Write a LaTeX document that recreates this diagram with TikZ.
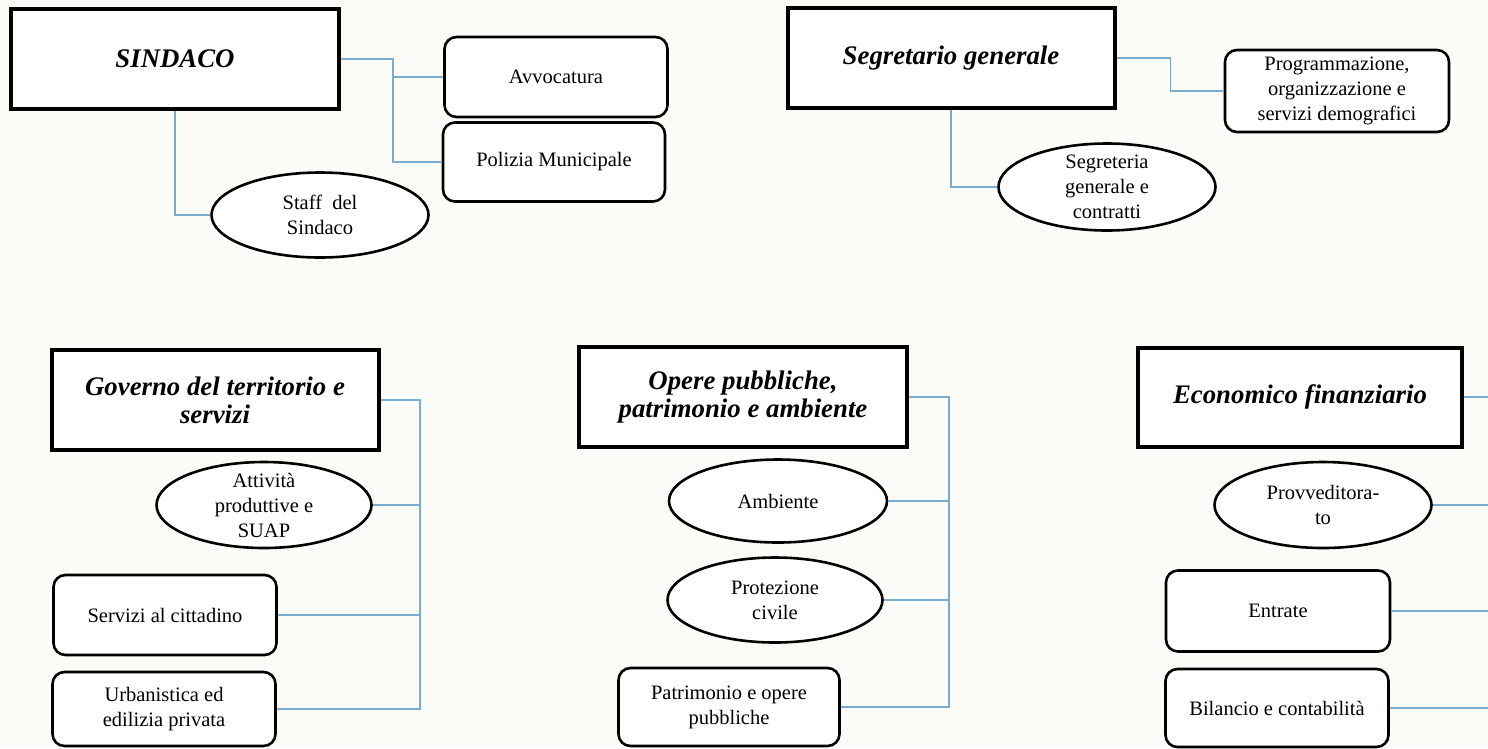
\documentclass[tikz,border=0pt]{standalone}
\usepackage{fontspec}
\setmainfont{Liberation Serif}
\usetikzlibrary{shapes.geometric}
\definecolor{carta}{RGB}{251,251,248}
\definecolor{linea}{RGB}{122,172,205}
\begin{document}
\begin{tikzpicture}[x=1pt,y=-1pt,
	capo/.style={draw,line width=4pt,fill=white,inner sep=0pt,align=center,
		font=\fontsize{26.8}{28}\selectfont\bfseries\itshape},
	ufficio/.style={draw,line width=2.6pt,rounded corners=12pt,fill=white,inner sep=0pt,
		align=center,font=\fontsize{20.5}{25}\selectfont},
	servizio/.style={draw,ellipse,line width=2.6pt,fill=white,inner xsep=0pt,inner ysep=-6pt,
		align=center,font=\fontsize{20.5}{25}\selectfont},
	link/.style={draw=linea,line width=1.4pt}]
	\fill[carta] (0,0) rectangle (1488,748);
	\useasboundingbox (0,0) rectangle (1488,748);
	\coordinate (bordo) at (1490,0);
	% Sindaco
	\node[capo,minimum width=328,minimum height=100] (sindaco) at (175,59) {SINDACO};
	\node[ufficio,minimum width=223,minimum height=80] (avvocatura) at (556,77) {Avvocatura};
	\node[ufficio,minimum width=222,minimum height=79] (polizia) at (554,162) {Polizia Municipale};
	\node[servizio,minimum width=217,minimum height=85] (staff) at (320,215) {Staff~~del\\Sindaco};
	\draw[link] (sindaco.east) -- ++(52,0) coordinate (s1) |- (polizia.west);
	\draw[link] (s1) |- (avvocatura.west);
	\draw[link] (sindaco.south) |- (staff.west);
	% Segretario generale
	\node[capo,minimum width=327,minimum height=100] (segretario) at (951,58) {Segretario generale};
	\node[ufficio,minimum width=224,minimum height=82] (programmazione) at (1337,91)
		{Programmazione,\\organizzazione e\\servizi demografici};
	\node[servizio,minimum width=217,minimum height=87] (segreteria) at (1107,187)
		{Segreteria\\generale e\\contratti};
	\draw[link] (segretario.east) -- ++(54,0) |- (programmazione.west);
	\draw[link] (segretario.south) |- (segreteria.west);
	% Governo del territorio e servizi
	\node[capo,minimum width=327,minimum height=100] (governo) at (215,400)
		{Governo del territorio e\\servizi};
	\node[servizio,minimum width=215,minimum height=86] (attivita) at (264,505)
		{Attività\\produttive e\\SUAP};
	\node[ufficio,minimum width=223,minimum height=80] (servizi) at (165,615) {Servizi al cittadino};
	\node[ufficio,minimum width=223,minimum height=74] (urbanistica) at (164,709)
		{Urbanistica ed\\edilizia privata};
	\draw[link] (governo.east) -- ++(39.5,0) coordinate (g1) |- (urbanistica.east);
	\draw[link] (g1 |- attivita.east) -- (attivita.east);
	\draw[link] (g1 |- servizi.east) -- (servizi.east);
	% Opere pubbliche, patrimonio e ambiente
	\node[capo,minimum width=328,minimum height=100] (opere) at (743,397)
		{Opere pubbliche,\\patrimonio e ambiente};
	\node[servizio,minimum width=218,minimum height=83] (ambiente) at (778,501) {Ambiente};
	\node[servizio,minimum width=215,minimum height=85] (protezione) at (775,600)
		{Protezione\\civile};
	\node[ufficio,minimum width=221,minimum height=78] (patrimonio) at (729,707)
		{Patrimonio e opere\\pubbliche};
	\draw[link] (opere.east) -- ++(40,0) coordinate (o1) |- (patrimonio.east);
	\draw[link] (o1 |- ambiente.east) -- (ambiente.east);
	\draw[link] (o1 |- protezione.east) -- (protezione.east);
	% Economico finanziario
	\node[capo,minimum width=324,minimum height=99] (economico) at (1300,397) {Economico finanziario};
	\node[servizio,minimum width=217,minimum height=86] (provveditorato) at (1323,505)
		{Provveditora-\\to};
	\node[ufficio,minimum width=224,minimum height=81] (entrate) at (1278,611) {Entrate};
	\node[ufficio,minimum width=223,minimum height=78] (bilancio) at (1277,708)
		{Bilancio e contabilità};
	\foreach \n in {economico,provveditorato,entrate,bilancio}
		\draw[link] (\n.east) -- (\n.east -| bordo);
\end{tikzpicture}
\end{document}
